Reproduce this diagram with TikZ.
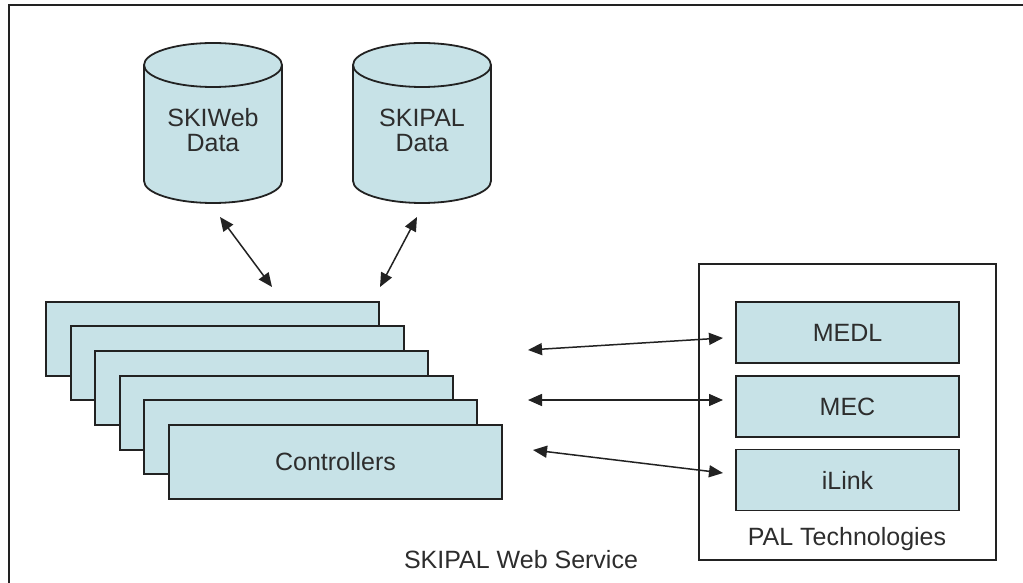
\documentclass[tikz,border=0pt]{standalone}
\usepackage{fontspec}
\setmainfont{Liberation Sans}
\usetikzlibrary{arrows.meta}
\definecolor{boxfill}{RGB}{199,226,231}
\definecolor{boxline}{RGB}{34,34,34}
\definecolor{textgray}{RGB}{45,45,45}
\tikzset{
    box/.style={draw=boxline, line width=1.8pt, fill=boxfill, inner sep=0pt, outer sep=0pt, text=textgray, font=\fontsize{25}{26}\selectfont},
    ctrlbox/.style={box, minimum width=333pt, minimum height=74pt, anchor=north west},
    palbox/.style={box, minimum width=223pt, minimum height=61pt},
    txt/.style={text=textgray, font=\fontsize{25}{25}\selectfont, align=center, inner sep=0pt},
    dbl/.style={{Triangle[length=14pt,width=12pt]}-{Triangle[length=14pt,width=12pt]}, line width=1.5pt, draw=boxline}
}

\begin{document}
\begin{tikzpicture}[x=1pt, y=-1pt]
\useasboundingbox (0,0) rectangle (1023,583);
\clip (0,0) rectangle (1023,583);
\fill[white] (0,0) rectangle (1023,583);
\draw[boxline, line width=1.8pt] (9,5) rectangle (1040,600);

\foreach \cx/\nm/\txt in {213/skiweb/SKIWeb, 422/skipal/SKIPAL} {
    \fill[boxfill] (\cx-69,65) -- (\cx-69,181) arc[start angle=180, end angle=0, x radius=69, y radius=22] -- (\cx+69,65) -- cycle;
    \draw[boxline, line width=1.8pt] (\cx-69,65) -- (\cx-69,181) arc[start angle=180, end angle=0, x radius=69, y radius=22] -- (\cx+69,65);
    \draw[boxline, line width=1.8pt, fill=boxfill] (\cx,65) ellipse[x radius=69, y radius=22];
    \node[txt] (\nm) at (\cx,130) {\txt\\Data};
}

\foreach \x/\y [count=\i] in {46/302, 71/326, 95/351, 120/376, 144/400, 169/425} {
    \node[ctrlbox] (ctrl\i) at (\x,\y) {};
}
\node[txt] (ctrltext) at (ctrl6.center) {Controllers};

\node[txt, anchor=base] (webservice) at (521,568) {SKIPAL Web Service};

\draw[boxline, line width=1.8pt] (699,264) rectangle (996,560);
\node[palbox] (medl) at (847.5,332.5) {MEDL};
\node[palbox] (mec) at (847.5,406.5) {MEC};
\node[palbox] (ilink) at (847.5,480) {iLink};
\node[txt, anchor=base] (paltech) at (847,545) {PAL Technologies};

\coordinate (webtop) at (220,217);
\coordinate (webbot) at (272,287);
\coordinate (paltop) at (417,217);
\coordinate (palbot) at (380,287);
\coordinate (lmedl) at (528,350);
\coordinate (rmedl) at (723,338);
\coordinate (lmec) at (528,400);
\coordinate (rmec) at (723,400);
\coordinate (lilink) at (533,450);
\coordinate (rilink) at (723,473);

\draw[dbl] (webtop) -- (webbot);
\draw[dbl] (paltop) -- (palbot);
\draw[dbl] (lmedl) -- (rmedl);
\draw[dbl] (lmec) -- (rmec);
\draw[dbl] (lilink) -- (rilink);
\end{tikzpicture}
\end{document}
